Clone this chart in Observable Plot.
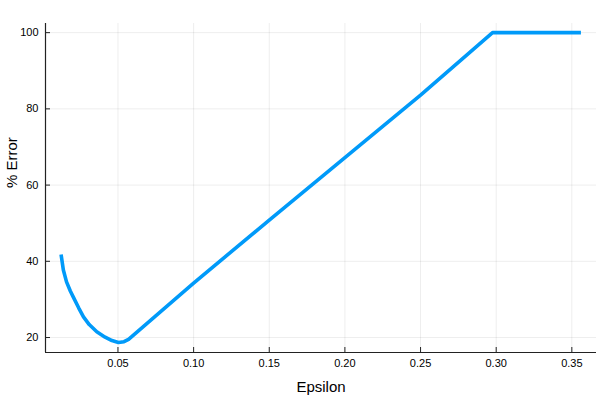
<!DOCTYPE html>
<html>
<head>
<meta charset="utf-8">
<script src="https://cdn.jsdelivr.net/npm/d3@7"></script>
<script src="https://cdn.jsdelivr.net/npm/@observablehq/plot@0.6"></script>
<style>
  html, body { margin: 0; padding: 0; background: #fff; }
  #chart { width: 600px; height: 400px; }
</style>
</head>
<body>
<div id="chart"></div>
<script>
// Data
const epsilon = [0.0124, 0.0139, 0.0160, 0.0185, 0.0205, 0.024, 0.0272, 0.031, 0.036, 0.0415, 0.046, 0.0503, 0.054, 0.057, 0.10, 0.15, 0.20, 0.25, 0.2976, 0.356];
const errorPct = [41.8, 37.7, 34.6, 32.2, 30.6, 27.8, 25.4, 23.4, 21.5, 20.1, 19.2, 18.7, 18.9, 19.5, 34.3, 50.8, 67.2, 83.6, 100, 100];
const xTicks = [0.05, 0.10, 0.15, 0.20, 0.25, 0.30, 0.35];
const yTicks = [20, 40, 60, 80, 100];
const xLabel = "Epsilon";
const yLabel = "% Error";

const data = epsilon.map((e, i) => ({eps: e, err: errorPct[i]}));
const xDomain = [0.0021, 0.3663];
const yDomain = [16.07, 102.4];
const font = "Helvetica, 'Liberation Sans', Arial, sans-serif";

const plot = Plot.plot({
  width: 600,
  height: 400,
  marginLeft: 45,
  marginRight: 4,
  marginTop: 23,
  marginBottom: 48,
  style: {fontFamily: font, fontSize: "11px", color: "#000", background: "#fff"},
  x: {domain: xDomain},
  y: {domain: yDomain},
  marks: [
    Plot.gridX(xTicks, {stroke: "#000", strokeOpacity: 0.07, strokeWidth: 1}),
    Plot.gridY(yTicks, {stroke: "#000", strokeOpacity: 0.07, strokeWidth: 1}),
    Plot.axisX(xTicks, {tickSize: 0, tickPadding: 7, tickFormat: d3.format(".2f"), label: null, fontSize: 11}),
    Plot.axisY(yTicks, {tickSize: 0, tickPadding: 7, label: null, fontSize: 11}),
    Plot.tickX(xTicks, {insetTop: 324, stroke: "#222", strokeWidth: 1}),
    Plot.tickY(yTicks, {insetRight: 546, stroke: "#222", strokeWidth: 1}),
    Plot.ruleY([yDomain[0]], {stroke: "#222", strokeWidth: 1.2}),
    Plot.ruleX([xDomain[0]], {stroke: "#222", strokeWidth: 1.2}),
    Plot.line(data, {x: "eps", y: "err", stroke: "#009af9", strokeWidth: 3.6, strokeLinejoin: "round", strokeLinecap: "butt"}),
    Plot.text([xLabel], {frameAnchor: "bottom", dy: 39, fontSize: 15, fill: "#000"}),
    Plot.text([yLabel], {frameAnchor: "left", dx: -33, rotate: -90, fontSize: 15, fill: "#000"})
  ]
});
document.getElementById("chart").appendChild(plot);
</script>
</body>
</html>
